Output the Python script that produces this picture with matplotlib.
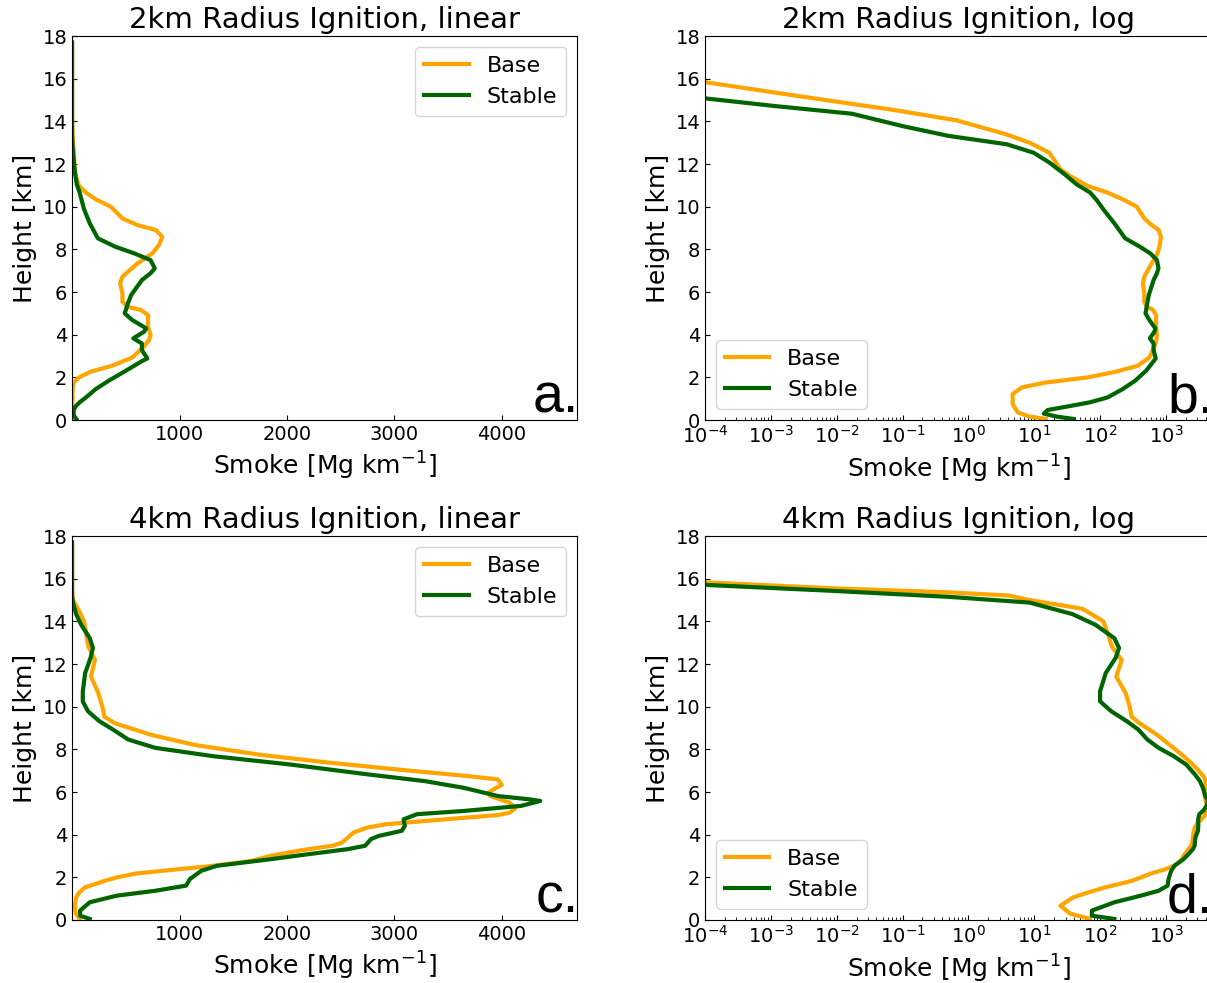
import matplotlib
matplotlib.use("Agg")
import matplotlib.pyplot as plt

# smoke profiles, height [km] vs smoke [Mg km^-1]
h2_base = [0.05, 0.16, 0.36, 0.75, 1.22, 1.53, 1.76, 2.0, 2.26, 2.54, 2.93, 3.40,
           3.75, 3.98, 4.37, 4.92, 5.16, 5.31, 5.55, 5.94, 6.41, 6.72, 7.34, 7.81,
           8.2, 8.59, 8.91, 9.14, 9.45, 10.0, 10.35, 10.66, 10.97, 11.44, 11.75,
           12.53, 13.0, 13.39, 14.05, 14.56, 14.95, 15.84, 16.8, 17.7]
s2_base = [15, 8.5, 5.6, 4.7, 4.7, 6.5, 15, 65, 170, 370, 560, 660,
           716, 731, 707, 707, 640, 515, 469, 469, 447, 469, 608, 747,
           808, 840, 778, 608, 469, 361, 220, 130, 65, 35, 25,
           17, 8.5, 3.8, 0.66, 0.066, 0.0087, 1e-4, 1e-6, 1e-9]

h2_stable = [0.05, 0.16, 0.3, 0.47, 0.62, 0.83, 1.06, 1.45, 1.84, 2.31, 2.73, 2.89,
             3.28, 3.59, 3.83, 4.14, 4.3, 4.69, 5.0, 5.47, 5.86, 6.56, 6.88, 7.11,
             7.5, 7.81, 8.13, 8.52, 9.22, 9.88, 10.27, 10.66, 11.05, 11.52, 12.07,
             12.53, 12.93, 13.32, 13.78, 14.36, 14.72, 15.08, 16.5, 17.7]
s2_stable = [40, 22, 14, 16, 30, 70, 130, 220, 340, 500, 640, 700,
             650, 650, 570, 670, 690, 560, 490, 520, 550, 650, 730, 770,
             730, 580, 400, 240, 165, 112, 91, 71, 44, 29, 17,
             9.8, 3.8, 0.5, 0.1, 0.017, 0.00115, 1e-4, 1e-6, 1e-9]

h4_base = [0.05, 0.3, 0.67, 1.06, 1.25, 1.53, 1.84, 2.0, 2.18, 2.38, 2.54, 2.77,
           3.01, 3.27, 3.48, 3.63, 3.86, 4.10, 4.33, 4.49, 4.64, 4.92, 5.03, 5.24,
           5.5, 5.81, 5.97, 6.2, 6.33, 6.59, 6.75, 7.06, 7.375, 7.73, 8.2, 8.67,
           9.22, 9.53, 10.0, 10.63, 11.41, 12.19, 12.83, 13.22, 14.0, 14.59, 15.0,
           15.21, 15.36, 15.55, 15.83, 16.8, 17.7]
s4_base = [70, 35, 25, 39, 60, 120, 308, 420, 595, 989, 1312, 1670,
           1849, 2136, 2423, 2513, 2566, 2620, 2746, 2925, 3283, 3964, 4072, 4125,
           4072, 3892, 3875, 3946, 4000, 3964, 3677, 3018, 2395, 1771, 1148, 743,
           400, 301, 282, 245, 176, 213, 150, 138, 112, 54, 8.5,
           4.1, 0.5, 0.0087, 1e-4, 1e-6, 1e-9]

h4_stable = [0.05, 0.2, 0.44, 0.83, 1.14, 1.37, 1.61, 1.92, 2.31, 2.54, 2.85, 3.09,
             3.32, 3.48, 3.79, 3.94, 4.18, 4.41, 4.72, 4.96, 5.11, 5.35, 5.58, 5.66,
             5.81, 6.20, 6.51, 6.83, 7.29, 7.68, 8.07, 8.46, 8.93, 9.32, 9.79, 10.25,
             10.72, 11.58, 12.28, 12.75, 13.21, 13.84, 14.34, 14.88, 15.15, 15.43,
             15.71, 16.8, 17.7]
s4_stable = [165, 75, 75, 165, 416, 774, 1061, 1097, 1204, 1348, 1849, 2208,
             2566, 2728, 2781, 2853, 3068, 3097, 3086, 3211, 3642, 4179, 4358, 4251,
             3964, 3642, 3283, 2746, 2029, 1312, 774, 523, 380, 254, 147, 100,
             100, 122, 172, 194, 165, 85, 38, 8.5, 0.5, 0.0087,
             1e-4, 1e-6, 1e-9]

titles = ["2km Radius Ignition, linear", "2km Radius Ignition, log",
          "4km Radius Ignition, linear", "4km Radius Ignition, log"]
letters = ["a.", "b.", "c.", "d."]
x_max = 4700
x_max_log = 5000

fig = plt.figure(figsize=(12.07, 9.83), dpi=100)
# right-hand panels run a few pixels past the figure edge, as in the original
rects = [[0.0597, 0.5727, 0.4184, 0.3906], [0.5841, 0.5727, 0.4200, 0.3906],
         [0.0597, 0.0641, 0.4184, 0.3906], [0.5841, 0.0641, 0.4200, 0.3906]]
profiles = [(h2_base, s2_base, h2_stable, s2_stable)] * 2 + \
           [(h4_base, s4_base, h4_stable, s4_stable)] * 2

for i, (rect, prof) in enumerate(zip(rects, profiles)):
    ax = fig.add_axes(rect)
    hb, sb, hs, ss = prof
    ax.plot(sb, hb, color="orange", lw=3, label="Base")
    ax.plot(ss, hs, color="darkgreen", lw=3, label="Stable")
    if i % 2 == 1:
        ax.set_xscale("log")
        ax.set_xlim(1e-4, x_max_log)
        ax.legend(loc="lower left", fontsize=16)
    else:
        ax.set_xlim(0, x_max)
        ax.set_xticks([1000, 2000, 3000, 4000])
        ax.legend(loc="upper right", fontsize=16)
    ax.set_ylim(0, 18)
    ax.set_yticks(range(0, 19, 2))
    ax.tick_params(which="both", direction="in", labelsize=14)
    ax.set_title(titles[i], fontsize=21)
    ax.set_xlabel(r"Smoke [Mg km$^{-1}$]", fontsize=18)
    ax.set_ylabel("Height [km]", fontsize=18)
    ax.text(1.003, 0.02, letters[i], transform=ax.transAxes, ha="right",
            va="baseline", fontsize=40, family="Liberation Sans")

fig.savefig("out.png", dpi=100)
